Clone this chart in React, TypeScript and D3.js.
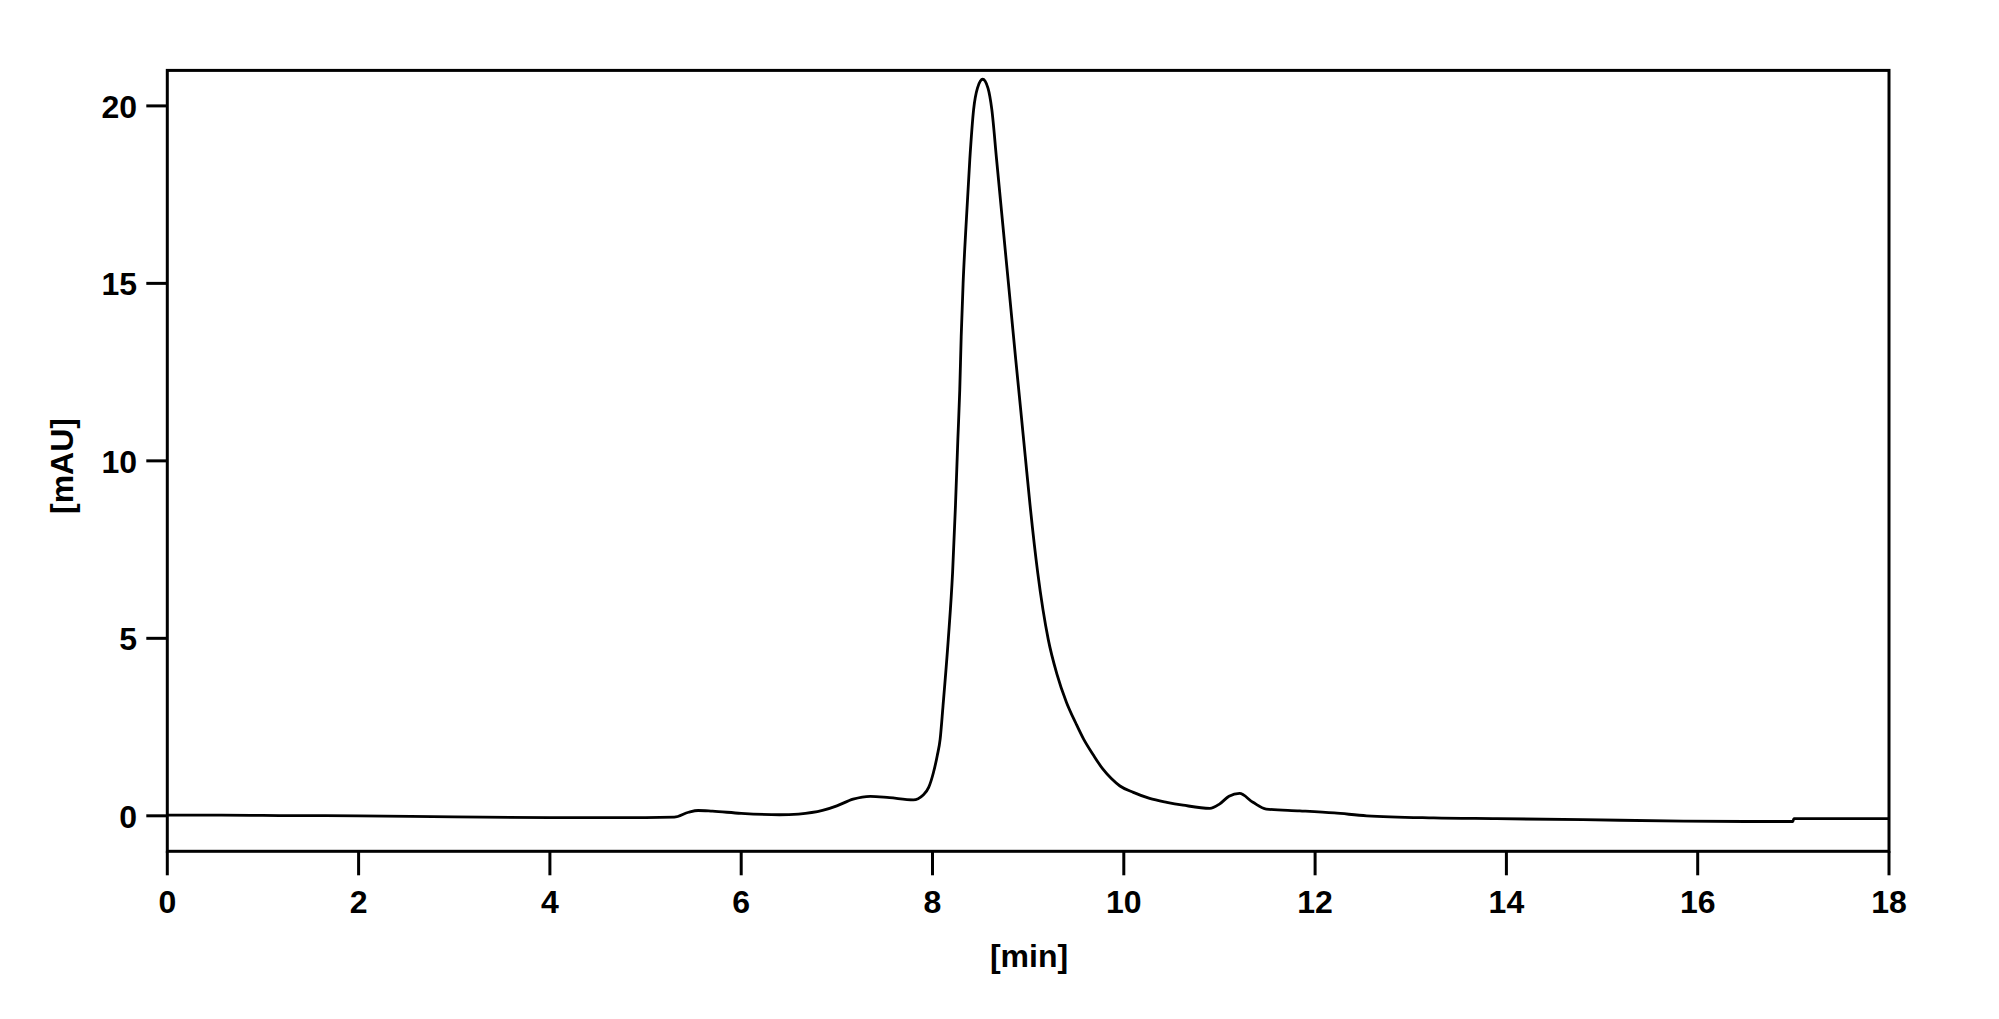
import React, { useEffect, useRef } from 'react';
import * as d3 from 'd3';

// retention time [min] and absorbance [mAU]
const timeMin = [
    0, 0.5, 1.0, 2.0, 3.0, 4.0, 5.0, 5.3, 5.45, 5.55, 5.7, 6.0, 6.4, 6.6, 6.85, 7.0, 7.17, 7.35, 7.55, 7.8,
    7.9, 7.96, 8.01, 8.05, 8.08, 8.11, 8.165, 8.21, 8.24, 8.265, 8.285, 8.3, 8.32, 8.35, 8.39, 8.43, 8.47,
    8.525, 8.58, 8.62, 8.67, 8.72, 8.77, 8.82, 8.87, 8.92, 8.97, 9.02, 9.1, 9.21, 9.3, 9.4, 9.5, 9.58, 9.68, 9.78,
    9.87, 9.96, 10.1, 10.27, 10.45, 10.62, 10.9, 11.0, 11.1, 11.21, 11.35, 11.49, 11.84, 12.2, 12.54, 13.24,
    13.9, 14.8, 15.85, 16.5, 16.98, 16.995, 17.005, 17.02, 17.5, 18.0,
];
const signalMAU = [
    0.02, 0.02, 0.01, 0.0, -0.03, -0.05, -0.05, -0.04, 0.1, 0.15, 0.13, 0.07, 0.03, 0.05, 0.15, 0.28, 0.47, 0.55, 0.51, 0.45,
    0.58, 0.8, 1.22, 1.7, 2.16, 3.1, 4.97, 6.85, 8.73, 10.6, 12.0, 13.5, 15.0, 16.6, 18.49, 19.9, 20.5,
    20.75, 20.5, 19.9, 18.49, 17.08, 15.67, 14.27, 12.86, 11.5, 10.12, 8.75, 6.85, 4.97, 4.0, 3.2, 2.6, 2.16, 1.72, 1.32,
    1.05, 0.84, 0.66, 0.49, 0.38, 0.3, 0.21, 0.33, 0.55, 0.63, 0.38, 0.19, 0.14, 0.08, 0.0, -0.06,
    -0.08, -0.11, -0.15, -0.16, -0.16, -0.16, -0.08, -0.08, -0.08, -0.08,
];
const xTicks = [0, 2, 4, 6, 8, 10, 12, 14, 16, 18];
const yTicks = [0, 5, 10, 15, 20];

const W = 1999;
const H = 1019;
const FONT = '"Liberation Sans", Arial, sans-serif';

const App: React.FC = () => {
    const svgRef = useRef<SVGSVGElement>(null);

    useEffect(() => {
        if (!svgRef.current) return;
        const svg = d3.select(svgRef.current);
        svg.selectAll('*').remove();

        const x = d3.scaleLinear().domain([0, 18]).range([167.3, 1889]);
        const y = d3.scaleLinear().domain([-1, 21]).range([851.3, 70.4]);

        const points = timeMin.map((t, i) => [t, signalMAU[i]] as [number, number]);

        // trace
        const line = d3.line<[number, number]>()
            .x(d => x(d[0]))
            .y(d => y(d[1]))
            .curve(d3.curveMonotoneX);

        svg.append('path')
            .datum(points)
            .attr('d', line)
            .attr('fill', 'none')
            .attr('stroke', '#000')
            .attr('stroke-width', 2.8)
            .attr('stroke-linejoin', 'round');

        // frame
        svg.append('rect')
            .attr('x', x(0))
            .attr('y', y(21))
            .attr('width', x(18) - x(0))
            .attr('height', y(-1) - y(21))
            .attr('fill', 'none')
            .attr('stroke', '#000')
            .attr('stroke-width', 3);

        // x axis ticks
        const gx = svg.append('g');
        gx.selectAll('line')
            .data(xTicks)
            .join('line')
            .attr('x1', d => x(d))
            .attr('x2', d => x(d))
            .attr('y1', y(-1))
            .attr('y2', y(-1) + 24)
            .attr('stroke', '#000')
            .attr('stroke-width', 3);
        gx.selectAll('text')
            .data(xTicks)
            .join('text')
            .attr('x', d => x(d))
            .attr('y', 913)
            .attr('text-anchor', 'middle')
            .style('font-family', FONT)
            .style('font-weight', 'bold')
            .style('font-size', '32px')
            .text(d => d);

        // y axis ticks
        const gy = svg.append('g');
        gy.selectAll('line')
            .data(yTicks)
            .join('line')
            .attr('x1', x(0) - 21)
            .attr('x2', x(0))
            .attr('y1', d => y(d))
            .attr('y2', d => y(d))
            .attr('stroke', '#000')
            .attr('stroke-width', 3);
        gy.selectAll('text')
            .data(yTicks)
            .join('text')
            .attr('x', 137)
            .attr('y', d => y(d) + 12)
            .attr('text-anchor', 'end')
            .style('font-family', FONT)
            .style('font-weight', 'bold')
            .style('font-size', '32px')
            .text(d => d);

        // axis titles
        svg.append('text')
            .attr('x', 1029)
            .attr('y', 967)
            .attr('text-anchor', 'middle')
            .style('font-family', FONT)
            .style('font-weight', 'bold')
            .style('font-size', '32px')
            .text('[min]');

        svg.append('text')
            .attr('transform', 'translate(73,466) rotate(-90)')
            .attr('text-anchor', 'middle')
            .style('font-family', FONT)
            .style('font-weight', 'bold')
            .style('font-size', '32px')
            .text('[mAU]');
    }, []);

    return (
        <svg
            ref={svgRef}
            width={W}
            height={H}
            style={{ position: 'absolute', left: 0, top: 0, background: '#fff' }}
        />
    );
};

export default App;
